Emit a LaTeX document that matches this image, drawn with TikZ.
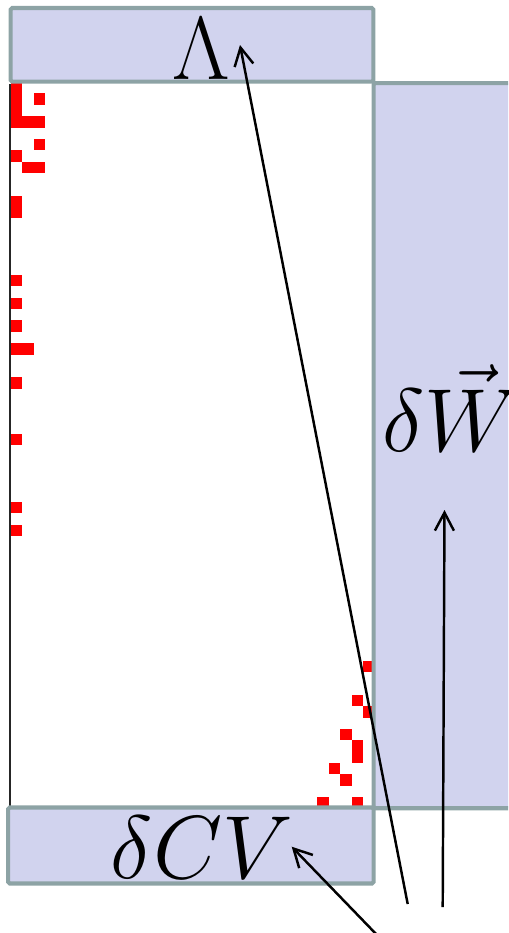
\documentclass[tikz,border=0pt]{standalone}
\usepackage{amsmath}
\usetikzlibrary{arrows.meta}
\definecolor{boxfill}{HTML}{D1D3EE}
\definecolor{boxline}{HTML}{8DA3A5}
\definecolor{nzred}{HTML}{FF0000}

\begin{document}
\begin{tikzpicture}[x=0.02cm,y=-0.02cm,
  blk/.style={draw=boxline,fill=boxfill,line width=2.3pt,rounded corners=1pt,
              inner sep=0pt,outer sep=0pt},
  lbl/.style={anchor=base,inner sep=0pt,font=\Huge,scale=2.05},
  ptr/.style={-{Straight Barb[length=3.6mm,width=3.8mm]},black,line width=1.4pt}]
  \useasboundingbox (0,0) rectangle (508,933);
  \clip (0,0) rectangle (508,933);

  % sparsity pattern: 64 rows x 32 columns, one cell = 11.35 px
  \def\cell{11.35}
  \foreach \c/\r in {0/0,0/1,0/2,0/3,2/1,1/3,2/3,2/5,0/6,1/7,2/7,0/10,0/11,
                     0/17,0/19,0/21,0/23,1/23,0/26,0/31,0/37,0/39,
                     31/51,30/54,31/55,29/57,30/58,30/59,28/60,29/61,27/63,30/63}{
    \fill[nzred] ({11+\cell*\c},{82.1+\cell*\r}) rectangle +(\cell,\cell);}
  \draw[black!85,line width=1.1pt] (10,84) -- (10,808);

  % blocks round the matrix
  \node[blk,minimum width=3.23cm,minimum height=14.506cm] (dwbox) at (454.25,445.65) {};
  \node[blk,minimum width=7.26cm,minimum height=1.474cm] (lambox) at (192,44.85) {};
  \node[blk,minimum width=7.314cm,minimum height=1.52cm] (cvbox) at (190.85,845.5) {};

  \node[lbl] (lam) at (201,79) {$\Lambda$};
  \node[lbl] (dw) at (451,451) {$\delta\vec{W}$};
  \node[lbl] (cv) at (202,878) {$\delta CV$};

  % pointers from below
  \coordinate (s1) at (407.7,904);  \coordinate (t1) at (240,45);
  \coordinate (s2) at (442.7,907);  \coordinate (t2) at (444.5,510);
  \coordinate (s3) at (378,936);    \coordinate (t3) at (291.7,846.7);
  \draw[ptr] (s1) -- (t1);
  \draw[ptr] (s2) -- (t2);
  \draw[ptr] (s3) -- (t3);
\end{tikzpicture}
\end{document}
